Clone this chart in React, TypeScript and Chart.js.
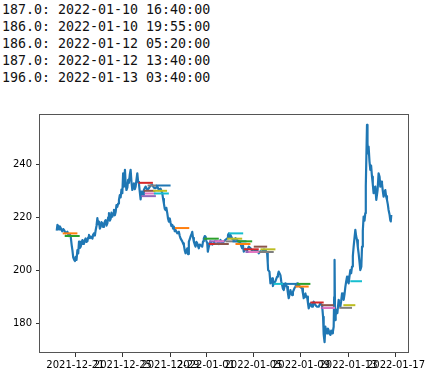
import React, { useEffect, useRef } from 'react';
import { Chart, registerables } from 'chart.js';

Chart.register(...registerables);

// Text printed above the figure
const printedLines = [
  '187.0: 2022-01-10 16:40:00',
  '186.0: 2022-01-10 19:55:00',
  '186.0: 2022-01-12 05:20:00',
  '187.0: 2022-01-12 13:40:00',
  '196.0: 2022-01-13 03:40:00',
];

// x values are days since BASE_DATE 00:00
const BASE_DATE = '2021-12-21';
const xTickLabels = ['2021-12-21', '2021-12-25', '2021-12-29', '2022-01-01', '2022-01-05', '2022-01-09', '2022-01-13', '2022-01-17'];
const yTickValues = [180, 200, 220, 240];

const priceDays = [
  -1.573, -1.514, -1.447, -1.379, -1.304, -1.236, -1.110, -1.026, -0.942, -0.816, -0.673, -0.564, -0.479, -0.395, -0.311, -0.252,
  -0.185, -0.118, -0.042, 0.025, 0.093, 0.168, 0.236, 0.303, 0.378, 0.446, 0.513, 0.589, 0.656, 0.723, 0.799, 0.866,
  0.934, 1.009, 1.077, 1.144, 1.220, 1.287, 1.430, 1.497, 1.564, 1.640, 1.707, 1.775, 1.850, 1.917, 1.985, 2.061,
  2.128, 2.195, 2.271, 2.338, 2.406, 2.481, 2.549, 2.616, 2.692, 2.759, 2.826, 2.902, 2.969, 3.036, 3.112, 3.180,
  3.247, 3.322, 3.390, 3.457, 3.533, 3.600, 3.668, 3.743, 3.811, 3.878, 3.953, 4.020, 4.088, 4.172, 4.231, 4.298,
  4.374, 4.441, 4.508, 4.584, 4.651, 4.719, 4.794, 4.861, 4.929, 5.004, 5.072, 5.139, 5.215, 5.282, 5.349, 5.425,
  5.492, 5.560, 5.635, 5.702, 5.770, 5.846, 5.913, 6.056, 6.190, 6.333, 6.476, 6.611, 6.754, 6.897, 7.031, 7.174,
  7.317, 7.384, 7.451, 7.527, 7.595, 7.662, 7.738, 7.805, 7.872, 7.948, 8.016, 8.083, 8.158, 8.226, 8.293, 8.369,
  8.436, 8.579, 8.714, 8.790, 8.857, 9.000, 9.067, 9.135, 9.210, 9.277, 9.345, 9.421, 9.488, 9.555, 9.631, 9.698,
  9.766, 9.841, 9.909, 9.976, 10.051, 10.119, 10.186, 10.262, 10.329, 10.396, 10.472, 10.539, 10.682, 10.750, 10.817, 10.892,
  10.960, 11.027, 11.103, 11.153, 11.237, 11.313, 11.380, 11.523, 11.658, 11.801, 11.944, 12.078, 12.221, 12.364, 12.499, 12.642,
  12.785, 12.852, 12.919, 12.995, 13.062, 13.205, 13.340, 13.483, 13.626, 13.760, 13.903, 13.971, 14.046, 14.114, 14.181, 14.324,
  14.467, 14.602, 14.745, 14.888, 15.022, 15.165, 15.308, 15.443, 15.586, 15.729, 15.863, 16.006, 16.149, 16.199, 16.233, 16.343,
  16.427, 16.494, 16.570, 16.637, 16.704, 16.847, 16.990, 17.058, 17.125, 17.201, 17.268, 17.335, 17.411, 17.478, 17.546, 17.621,
  17.688, 17.756, 17.831, 17.899, 17.966, 18.042, 18.109, 18.176, 18.252, 18.320, 18.387, 18.463, 18.530, 18.597, 18.673, 18.740,
  18.807, 18.950, 19.093, 19.161, 19.228, 19.304, 19.371, 19.438, 19.514, 19.581, 19.649, 19.724, 19.792, 19.859, 19.934, 20.002,
  20.069, 20.145, 20.212, 20.355, 20.490, 20.566, 20.633, 20.700, 20.776, 20.860, 20.911, 20.986, 21.054, 21.121, 21.197, 21.264,
  21.331, 21.407, 21.474, 21.542, 21.617, 21.685, 21.752, 21.794, 21.828, 21.870, 21.920, 21.979, 22.063, 22.172, 22.248, 22.315,
  22.383, 22.458, 22.526, 22.593, 22.669, 22.736, 22.803, 22.879, 22.946, 23.014, 23.089, 23.156, 23.224, 23.299, 23.367, 23.434,
  23.510, 23.577, 23.644, 23.720, 23.787, 23.854, 23.930, 23.997, 24.081, 24.140, 24.207, 24.274, 24.350, 24.417, 24.459, 24.501,
  24.560, 24.602, 24.644, 24.695, 24.771, 24.838, 24.905, 24.981, 25.048, 25.116, 25.191, 25.258, 25.342, 25.452, 25.536, 25.620,
  25.679, 25.746, 25.822, 25.889, 25.956, 26.032, 26.099, 26.167, 26.242, 26.310, 26.377, 26.453, 26.520, 26.562, 26.604,
];

const priceValues = [
  215.0, 217.2, 216.8, 215.5, 216.6, 216.0, 214.8, 215.6, 215.2, 214.0, 214.6, 213.0, 213.8, 212.8, 209.5, 207.7,
  205.0, 204.2, 203.6, 205.2, 204.0, 207.7, 206.5, 210.9, 208.5, 209.0, 210.4, 211.5, 210.0, 210.2, 211.6, 212.1,
  210.8, 211.0, 212.5, 213.4, 212.2, 212.8, 212.0, 213.6, 214.0, 213.2, 215.2, 216.8, 219.7, 217.5, 218.4, 215.8,
  216.5, 218.2, 217.8, 216.4, 217.2, 218.5, 219.0, 216.9, 217.8, 220.0, 221.6, 218.8, 219.5, 221.8, 220.3, 221.5,
  222.8, 220.8, 222.0, 224.6, 224.0, 225.2, 226.6, 228.4, 227.5, 230.5, 229.1, 236.6, 231.6, 237.9, 233.0, 230.3,
  231.2, 234.1, 233.0, 236.2, 237.9, 233.5, 230.3, 231.8, 232.8, 230.6, 231.6, 234.0, 236.6, 233.4, 232.8, 229.5,
  226.8, 229.7, 229.7, 228.6, 230.4, 231.0, 231.6, 230.4, 231.0, 232.0, 232.2, 231.2, 231.0, 231.6, 230.3, 230.8,
  229.1, 227.0, 225.3, 223.2, 222.8, 223.6, 221.6, 219.5, 218.4, 219.6, 218.0, 216.8, 217.2, 215.8, 216.5, 214.8,
  215.3, 214.0, 214.6, 213.0, 212.1, 211.0, 210.2, 209.6, 207.6, 206.5, 207.4, 208.4, 206.2, 210.9, 211.8, 212.8,
  213.5, 214.6, 212.3, 210.9, 209.8, 209.0, 210.8, 210.3, 209.2, 208.4, 209.8, 209.6, 209.0, 211.0, 212.1, 213.0,
  212.8, 211.2, 210.3, 207.1, 209.0, 210.0, 210.9, 209.8, 210.3, 211.2, 210.9, 210.0, 211.5, 210.4, 210.9, 211.6,
  212.1, 213.4, 214.0, 212.6, 213.4, 212.0, 211.5, 212.2, 211.5, 211.0, 210.3, 209.2, 208.4, 209.5, 207.1, 208.2,
  207.7, 209.0, 208.4, 207.5, 207.1, 207.6, 207.7, 206.5, 207.3, 207.1, 207.9, 207.7, 206.5, 203.0, 200.2, 199.6,
  195.2, 196.5, 197.1, 194.2, 195.2, 196.0, 197.7, 198.6, 199.6, 198.9, 198.3, 196.0, 194.6, 193.2, 192.7, 194.0,
  195.2, 194.4, 193.9, 191.5, 189.6, 191.0, 192.7, 191.6, 190.8, 192.0, 192.7, 193.5, 193.9, 194.8, 195.2, 194.2,
  194.6, 193.8, 193.3, 191.5, 189.6, 190.8, 191.4, 190.0, 190.2, 188.0, 185.8, 186.8, 187.7, 186.9, 186.4, 187.5,
  188.3, 187.6, 187.0, 186.4, 186.4, 187.1, 187.7, 187.2, 187.0, 182.6, 176.0, 173.1, 178.9, 177.0, 176.4, 178.2,
  177.6, 176.2, 175.8, 177.4, 176.4, 177.0, 178.9, 190.0, 204.0, 181.4, 183.0, 185.2, 184.0, 189.0, 187.5, 186.4,
  188.5, 191.4, 190.6, 189.0, 191.2, 193.9, 195.8, 197.7, 196.0, 195.2, 198.0, 200.2, 199.0, 201.5, 205.5, 209.0,
  212.4, 215.3, 213.0, 211.5, 208.8, 206.5, 203.2, 200.2, 201.5, 209.0, 215.0, 220.3, 218.8, 221.6, 232.0, 241.6,
  254.8, 248.0, 244.1, 246.6, 241.0, 237.9, 239.5, 235.3, 232.4, 229.1, 231.0, 231.6, 226.6, 230.3, 236.6, 235.3,
  231.6, 233.5, 232.8, 230.0, 227.8, 229.5, 230.3, 228.0, 226.6, 225.0, 222.8, 221.2, 219.0, 218.5, 220.9,
];

// Horizontal level segments (drawn in order, colours cycle after the price line)
const levelValues = [214, 213, 233, 228, 230, 229, 232, 230, 229, 232, 216, 212, 210, 211, 210, 211, 211, 212, 214, 211,
  210, 211, 208, 207, 209, 207, 207, 208, 195, 195, 194, 195, 188, 186, 187, 186, 186, 187, 196];
const levelStartDays = [-1.068, -0.900, 5.324, 5.551, 5.745, 5.829, 6.081, 6.544, 6.611, 6.779, 8.381, 10.817, 11.237, 11.254,
  11.717, 11.758, 12.642, 12.785, 12.919, 13.231, 13.483, 13.626, 14.181, 14.324, 15.022, 14.577, 15.443, 15.586, 16.704,
  17.478, 18.530, 18.673, 19.792, 20.675, 20.694, 20.830, 22.222, 22.569, 23.153];
const levelEndDays = [0.168, 0.362, 6.527, 6.779, 6.729, 6.754, 6.838, 7.721, 7.872, 8.016, 9.589, 12.078, 12.390, 12.474,
  12.919, 12.558, 13.760, 14.046, 14.130, 14.408, 14.745, 14.888, 15.443, 15.443, 16.149, 15.586, 16.704, 16.847, 17.831,
  18.656, 19.649, 19.792, 20.911, 21.810, 21.752, 21.870, 23.299, 23.577, 24.140];

const TAB10 = ['#1f77b4', '#ff7f0e', '#2ca02c', '#d62728', '#9467bd', '#8c564b', '#e377c2', '#7f7f7f', '#bcbd22', '#17becf'];

const dayOf = (label: string) =>
  (Date.parse(label + 'T00:00:00Z') - Date.parse(BASE_DATE + 'T00:00:00Z')) / 86400000;

const framePlugin = {
  id: 'frame',
  afterDatasetsDraw(chart: any) {
    const { ctx, chartArea } = chart;
    const l = Math.round(chartArea.left) - 0.5;
    const r = Math.round(chartArea.right) + 0.5;
    const t = Math.round(chartArea.top) + 0.5;
    const b = Math.round(chartArea.bottom) - 0.5;
    ctx.save();
    ctx.strokeStyle = '#555';
    ctx.lineWidth = 1;
    ctx.strokeRect(l, t, r - l, b - t);
    ctx.restore();
  },
};

export default function App() {
  const ref = useRef<HTMLCanvasElement>(null);

  useEffect(() => {
    const canvas = ref.current;
    if (!canvas) return;

    const allX = priceDays.concat(levelStartDays, levelEndDays);
    const allY = priceValues.concat(levelValues);
    const xMinD = Math.min(...allX), xMaxD = Math.max(...allX);
    const yMinD = Math.min(...allY), yMaxD = Math.max(...allY);
    const xPad = (xMaxD - xMinD) * 0.05;
    const yPad = (yMaxD - yMinD) * 0.05;

    const xTickDays = xTickLabels.map(dayOf);

    const datasets: any[] = [
      {
        data: priceDays.map((d, i) => ({ x: d, y: priceValues[i] })),
        borderColor: TAB10[0],
        borderWidth: 2.2,
        pointRadius: 0,
        borderJoinStyle: 'round',
        tension: 0,
        order: 0,
      },
    ];
    levelValues.forEach((v, i) => {
      datasets.push({
        data: [
          { x: levelStartDays[i], y: v },
          { x: levelEndDays[i], y: v },
        ],
        borderColor: TAB10[(i + 1) % 10],
        borderWidth: 2,
        borderCapStyle: 'butt',
        pointRadius: 0,
        order: -(i + 1),
      });
    });

    Chart.defaults.font.family = '"DejaVu Sans", sans-serif';
    Chart.defaults.font.size = 10;
    Chart.defaults.color = '#000';

    const chart = new Chart(canvas, {
      type: 'line',
      data: { datasets },
      plugins: [framePlugin],
      options: {
        animation: false,
        responsive: false,
        devicePixelRatio: 1,
        layout: { padding: { left: 0, right: 25, top: 114, bottom: 0 } },
        plugins: { legend: { display: false }, tooltip: { enabled: false } },
        scales: {
          x: {
            type: 'linear',
            min: xMinD - xPad,
            max: xMaxD + xPad,
            afterBuildTicks: (scale: any) => {
              scale.ticks = xTickDays.map((v) => ({ value: v }));
            },
            afterFit: (scale: any) => {
              scale.height = 26;
            },
            ticks: {
              autoSkip: false,
              maxRotation: 0,
              minRotation: 0,
              padding: 2,
              color: '#000',
              callback: (value: any) => {
                const idx = xTickDays.findIndex((d) => Math.abs(d - Number(value)) < 1e-6);
                return idx >= 0 ? xTickLabels[idx] : '';
              },
            },
            grid: { display: true, drawOnChartArea: false, drawTicks: true, tickLength: 4, color: '#333' },
            border: { display: false },
          },
          y: {
            type: 'linear',
            min: yMinD - yPad,
            max: yMaxD + yPad,
            afterBuildTicks: (scale: any) => {
              scale.ticks = yTickValues.map((v) => ({ value: v }));
            },
            afterFit: (scale: any) => {
              scale.width = 40;
            },
            ticks: { padding: 4, color: '#000' },
            grid: { display: true, drawOnChartArea: false, drawTicks: true, tickLength: 4, color: '#333' },
            border: { display: false },
          },
        },
      } as any,
    });

    return () => chart.destroy();
  }, []);

  return (
    <div style={{ position: 'absolute', left: 0, top: 0, width: 433, height: 379, background: '#fff', overflow: 'hidden' }}>
      <div
        style={{
          position: 'absolute',
          left: 2,
          top: 1,
          fontFamily: '"DejaVu Sans Mono", monospace',
          fontSize: '13.3px',
          lineHeight: '17px',
          whiteSpace: 'pre',
          color: '#111',
        }}
      >
        {printedLines.map((line, i) => (
          <div key={i}>{line}</div>
        ))}
      </div>
      <canvas ref={ref} width={433} height={379} style={{ position: 'absolute', left: 0, top: 0 }} />
    </div>
  );
}
